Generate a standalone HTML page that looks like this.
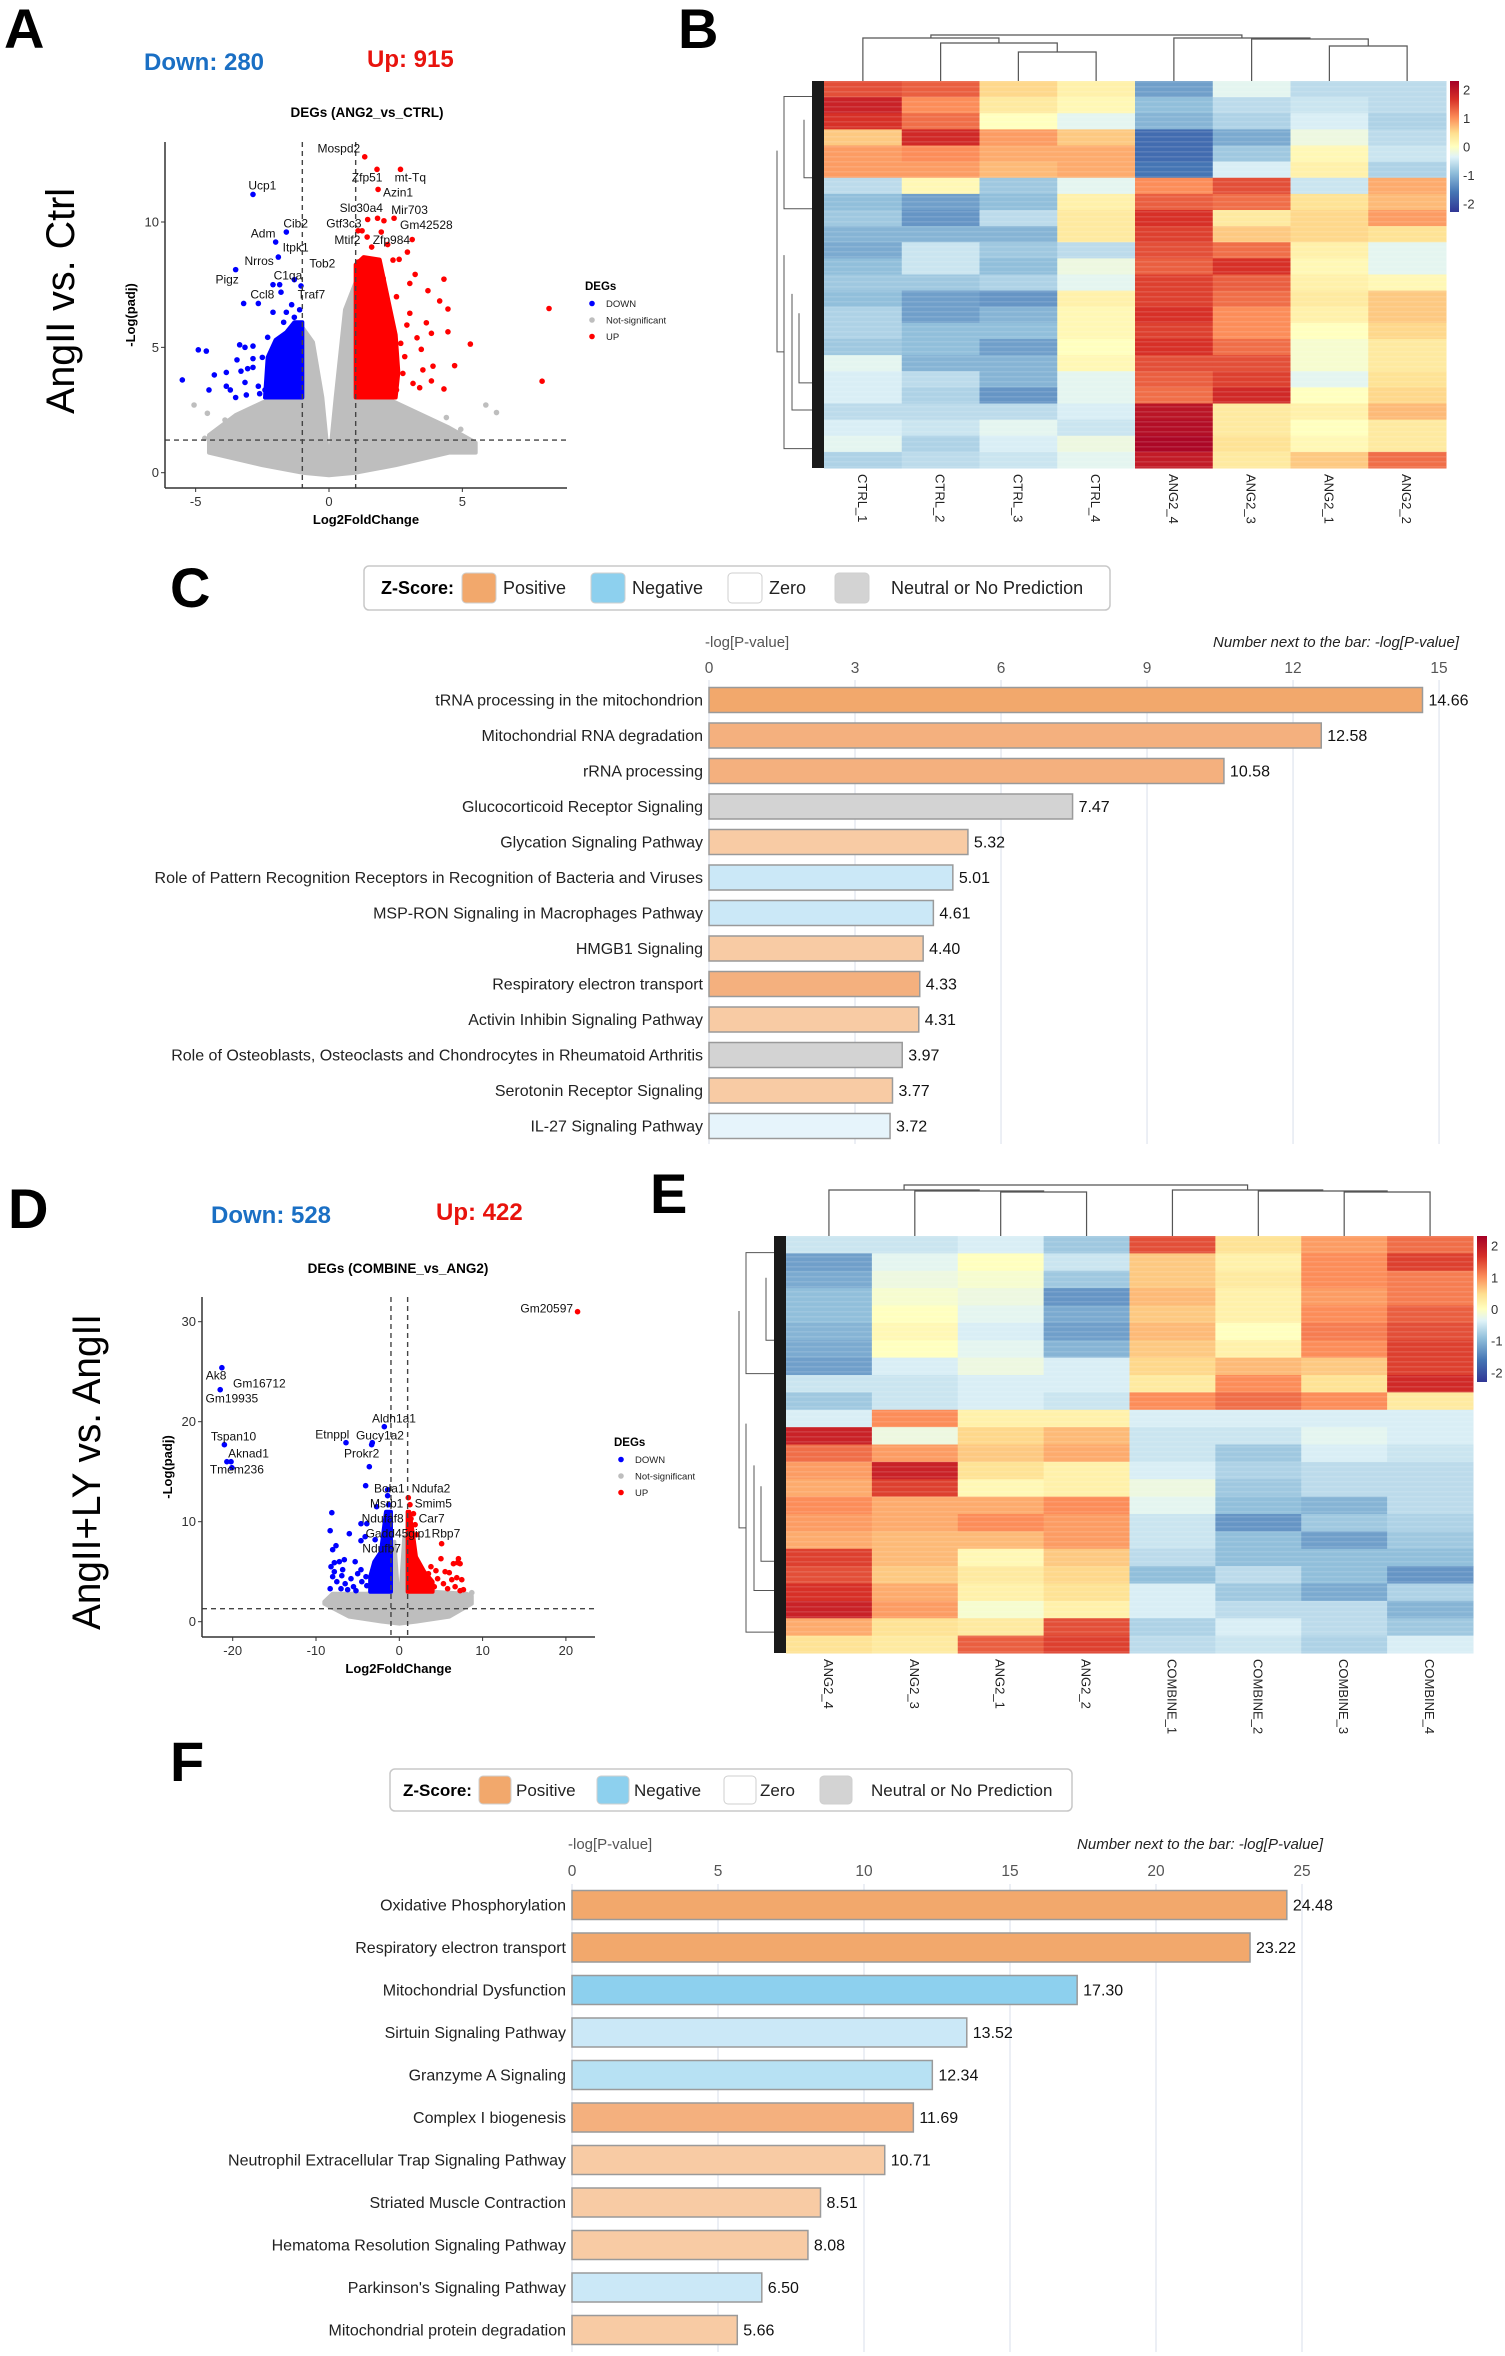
<!DOCTYPE html>
<html><head><meta charset="utf-8"><style>
html,body{margin:0;padding:0;background:#fff;}
svg{display:block;font-family:"Liberation Sans",Arial,sans-serif;}
</style></head><body>
<svg id="fig" xmlns="http://www.w3.org/2000/svg" width="1505" height="2356" viewBox="0 0 1505 2356">
<defs>
<linearGradient id="cbar" x1="0" y1="1" x2="0" y2="0">
<stop offset="0" stop-color="#313695"/><stop offset="0.15" stop-color="#4575B4"/><stop offset="0.3" stop-color="#91BFDB"/><stop offset="0.42" stop-color="#E0F3F8"/><stop offset="0.5" stop-color="#FFFFBF"/><stop offset="0.6" stop-color="#FEE090"/><stop offset="0.72" stop-color="#FC8D59"/><stop offset="0.86" stop-color="#D73027"/><stop offset="1" stop-color="#A50026"/>
</linearGradient>
</defs>
<text x="4" y="48" font-size="56" font-weight="bold">A</text>
<text x="678" y="48" font-size="56" font-weight="bold">B</text>
<text x="170" y="607" font-size="56" font-weight="bold">C</text>
<text x="8" y="1228" font-size="56" font-weight="bold">D</text>
<text x="650" y="1213" font-size="56" font-weight="bold">E</text>
<text x="170" y="1781" font-size="56" font-weight="bold">F</text>
<text x="144" y="70" font-size="24" font-weight="bold" fill="#1a6fc4">Down: 280</text>
<text x="367" y="67" font-size="24" font-weight="bold" fill="#e8130d">Up: 915</text>
<text x="211" y="1223" font-size="24" font-weight="bold" fill="#1a6fc4">Down: 528</text>
<text x="436" y="1220" font-size="24" font-weight="bold" fill="#e8130d">Up: 422</text>
<text transform="translate(74,301) rotate(-90)" text-anchor="middle" font-size="40" textLength="226" lengthAdjust="spacingAndGlyphs">AngII vs. Ctrl</text>
<text transform="translate(100,1472) rotate(-90)" text-anchor="middle" font-size="40" textLength="316" lengthAdjust="spacingAndGlyphs">AngII+LY vs. AngII</text>
</svg>
<script>
// ---------- DATA ----------
// Volcano A (ANG2_vs_CTRL)
const aDown = [[-2.85,11.1],[-2.0,9.2],[-1.6,9.6],[-1.9,8.6],[-3.5,8.1],[-1.3,7.7],[-2.65,6.75],[-2.1,7.5],[-1.85,7.5],[-1.8,7.2],[-1.05,7.45],[-3.2,6.75],[-2.1,6.4],[-1.6,6.4],[-1.4,6.7],[-1.1,6.5],[-4.9,4.9],[-4.6,4.85],[-5.5,3.7],[-4.5,3.3],[-4.3,3.9],[-3.85,4.0],[-3.85,3.45],[-3.7,3.3],[-3.5,3.0],[-3.45,4.5],[-3.35,5.1],[-3.15,5.0],[-3.3,4.05],[-3.05,4.15],[-2.85,4.2],[-3.15,3.6],[-3.1,3.1],[-2.85,4.55],[-2.85,5.05],[-2.5,4.6],[-2.65,3.45],[-2.6,3.15],[-2.3,5.4],[-2.2,3.6],[-1.7,6.0],[-1.3,6.2],[-1.2,5.9],[-2.4,3.3],[-2.0,3.1]];
const aUp = [[1.34,12.6],[1.8,12.1],[2.68,12.1],[1.84,11.3],[2.44,10.15],[2.06,10.05],[1.45,10.1],[1.09,9.65],[1.24,9.65],[1.43,9.4],[1.96,9.6],[3.12,9.3],[2.94,8.8],[1.82,10.15],[8.25,6.55],[7.99,3.65],[5.3,5.13],[4.71,4.27],[4.31,7.72],[4.46,6.53],[4.46,5.62],[4.31,3.34],[4.15,6.85],[3.9,4.25],[3.84,3.66],[3.84,5.56],[3.71,7.26],[3.65,5.98],[3.52,4.1],[3.46,4.92],[3.3,5.38],[3.23,7.91],[3.03,7.55],[3.03,6.36],[3.4,3.39],[3.15,3.56],[2.92,5.89],[2.84,4.63],[2.77,3.96],[2.69,5.16],[2.63,8.51],[2.4,8.48],[2.53,7.02],[2.31,6.09],[2.15,4.89],[2.4,4.23],[2.03,7.75],[2.19,3.5],[2.53,3.3],[1.6,9.0],[2.2,9.1],[1.1,8.4],[1.5,8.3]];
const aNs = [[-5.06,2.7],[-4.56,2.37],[5.88,2.7],[6.28,2.4],[4.94,1.73],[4.9,1.33],[2.75,0.57],[-2.04,0.3],[-3.76,0.9],[-4.66,1.37],[-3.44,1.83],[3.78,1.44],[-3.9,2.1],[4.4,2.2]];
const aCloudX = [-4.5,-3.5,-2.5,-1.5,-1.0,-0.6,-0.25,0,0.25,0.6,1.0,1.5,2.5,3.5,4.5,5.5];
const aCloudHi = [1.5,2.3,2.8,3.2,5.8,5.2,3.0,0.3,3.0,6.5,7.6,3.3,2.8,2.3,1.8,1.2];
const aCloudLoX = [5.5,4.5,2.5,1.0,0,-1.0,-2.5,-4.5];
const aCloudLo = [0.8,0.8,0.3,0.0,-0.1,0.0,0.3,0.8];
const aDenseDownX = [-2.4,-1.0,-1.0,-1.3,-1.6,-2.0,-2.3];
const aDenseDownY = [3.0,3.0,6.0,6.0,5.6,5.3,4.6];
const aDenseUpX = [1.0,2.5,2.6,2.5,2.3,2.1,1.9,1.3,1.0];
const aDenseUpY = [3.0,3.0,4.0,5.5,6.5,7.5,8.5,8.6,8.3];
const aLabels = [["Mospd2",0.37,12.94],["Zfp51",1.43,11.77],["mt-Tq",3.05,11.77],["Ucp1",-2.5,11.45],["Azin1",2.59,11.17],["Slc30a4",1.21,10.55],["Mir703",3.02,10.48],["Gm42528",3.65,9.88],["Cib2",-1.25,9.95],["Gtf3c3",0.56,9.95],["Adm",-2.47,9.55],["Mtif2",0.69,9.28],["Zfp984",2.34,9.28],["Itpk1",-1.25,8.98],["Nrros",-2.62,8.44],["Tob2",-0.25,8.35],["Pigz",-3.82,7.71],["C1qa",-1.54,7.86],["Ccl8",-2.5,7.11],["Traf7",-0.66,7.11]];
const aXTicks = [-5,0,5];
const aYTicks = [0,5,10];

// Volcano D (COMBINE_vs_ANG2)
const dDown = [[-21.3,25.4],[-21.5,23.2],[-21.0,17.7],[-20.7,16],[-20.2,16],[-20.1,15.4],[-1.8,19.5],[-6.4,17.9],[-3.24,17.9],[-3.32,17.7],[-3.6,15.5],[-4.04,13.6],[-1.4,13.2],[-1.4,12.6],[-2.72,11.5],[-1.28,11.7],[-8.1,10.9],[-8.3,9.1],[-6,8.8],[-4.6,9.8],[-3.9,9.8],[-4.1,8.5],[-4.6,8.1],[-2.9,8.2],[-7.6,7.6],[-8.0,7.2],[-5.3,6.0],[-8.2,5.5],[-7.8,5.9],[-7.2,6.0],[-6.8,5.2],[-8.0,4.5],[-7.5,4.0],[-6.5,3.8],[-5.8,4.3],[-5.0,4.8],[-4.5,4.0],[-7.0,3.3],[-8.3,3.3],[-6.2,3.2],[-5.5,3.5],[-4.0,4.5],[-7.8,5.0],[-6.6,6.2],[-3.9,3.6],[-5.2,3.1],[-6.9,4.6],[-4.6,5.2]];
const dUp = [[21.4,31],[1.08,12.4],[1.28,11.7],[1.7,10.8],[2.08,8.7],[5.08,7.8],[5.0,6.3],[7.1,6.3],[7.3,5.8],[6.0,4.9],[7.5,4.2],[7.7,3.2],[4.2,3.5],[4.6,4.3],[5.3,3.8],[5.8,3.3],[6.3,4.2],[6.7,3.5],[6.9,4.4],[7.3,3.1],[4.4,5.1],[3.8,5.5],[5.5,5.0],[6.5,5.8],[7.0,5.9],[3.5,4.8],[1.4,10.3],[1.9,9.7]];
const dNs = [[8.7,2.9],[-8.7,2.0],[-5.5,1.0],[7.8,1.7]];
const dCloudX = [-9,-8,-4,-1,-0.6,0,0.6,1,4,8,8.7];
const dCloudHi = [2.0,2.8,2.8,3.0,8.0,1.0,8.5,3.0,3.0,2.8,2.6];
const dCloudLoX = [8.7,6,2,0,-2,-6,-9];
const dCloudLo = [1.8,0.5,0,-0.2,0,0.5,1.8];
const dDenseDownX = [-3.5,-1.0,-1.0,-1.6,-2.2,-3.0,-3.5];
const dDenseDownY = [3.0,3.0,11.0,11.0,7.0,6.0,4.5];
const dDenseUpX = [1.0,4.0,4.0,3.0,2.0,1.6,1.2,1.0];
const dDenseUpY = [3.0,3.0,4.0,5.0,6.5,9.0,11.0,11.0];
const dLabels = [["Gm20597",17.7,31.3],["Ak8",-22,24.6],["Gm16712",-16.8,23.8],["Gm19935",-20.1,22.3],["Aldh1a1",-0.64,20.3],["Etnppl",-8.04,18.7],["Gucy1a2",-2.32,18.6],["Tspan10",-19.9,18.5],["Aknad1",-18.1,16.8],["Prokr2",-4.52,16.8],["Tmem236",-19.5,15.2],["Bola1",-1.2,13.3],["Ndufa2",3.8,13.3],["Msrb1",-1.52,11.8],["Smim5",4.08,11.8],["Ndufaf8",-2,10.3],["Car7",3.88,10.3],["Gadd45gip1",-0.12,8.8],["Rbp7",5.6,8.8],["Ndufb7",-2.12,7.3]];
const dXTicks = [-20,-10,0,10,20];
const dYTicks = [0,10,20,30];

// Heatmap B
const bCols = ["CTRL_1","CTRL_2","CTRL_3","CTRL_4","ANG2_4","ANG2_3","ANG2_1","ANG2_2"];
const bMatrix = [
[1.4,1.3,0.5,0.2,-1.2,-0.3,-0.6,-0.6],[1.8,1.0,0.3,0.1,-0.9,-0.6,-0.5,-0.6],[1.6,1.2,0.0,-0.3,-1.0,-0.7,-0.4,-0.7],[0.6,1.7,0.9,0.6,-1.7,-1.1,-0.2,-0.6],[0.9,1.0,0.8,0.8,-1.7,-0.8,0.1,-0.5],[0.9,0.9,0.7,0.8,-1.6,-0.4,0.2,-0.7],
[-0.6,0.1,-0.8,-0.3,1.0,1.4,-0.5,0.8],[-0.9,-1.2,-0.9,0.2,1.3,1.2,0.4,0.7],[-0.8,-1.3,-0.6,0.3,1.6,0.3,0.5,0.9],[-1.0,-1.0,-1.0,0.3,1.5,0.6,0.5,0.4],[-1.1,-0.5,-0.8,-0.6,1.4,1.2,0.2,-0.3],[-0.9,-0.5,-0.9,-0.2,1.3,1.6,0.1,-0.3],
[-0.8,-0.8,-0.7,-0.3,1.5,1.3,0.2,0.1],[-0.9,-1.2,-1.3,0.2,1.5,1.2,0.3,0.6],[-0.7,-1.2,-1.0,0.1,1.6,1.0,0.2,0.6],[-0.7,-0.9,-0.9,0.1,1.5,1.0,0.0,0.5],[-0.8,-0.9,-1.2,0.0,1.6,1.2,-0.1,0.3],[-0.3,-1.0,-1.0,0.1,1.4,1.4,-0.1,0.3],
[-0.4,-0.6,-1.0,-0.3,1.3,1.5,-0.3,0.4],[-0.4,-0.7,-1.3,-0.3,1.2,1.7,0.0,0.5],[-0.6,-0.6,-0.6,-0.4,2.0,0.3,0.2,0.7],[-0.4,-0.5,-0.3,-0.5,2.1,0.3,0.0,0.3],[-0.3,-0.7,-0.4,-0.2,2.2,0.4,0.1,0.3],[-0.7,-0.6,-0.5,-0.3,1.9,0.3,0.6,1.2]];
// Heatmap E
const eCols = ["ANG2_4","ANG2_3","ANG2_1","ANG2_2","COMBINE_1","COMBINE_2","COMBINE_3","COMBINE_4"];
const eMatrix = [
[-0.5,-0.5,-0.4,-0.8,1.4,0.4,0.9,1.2],[-1.2,-0.3,0.0,-0.5,0.6,0.2,1.0,1.5],[-1.1,-0.2,-0.1,-0.8,0.6,0.3,1.0,1.1],[-0.9,-0.1,-0.2,-1.3,0.7,0.2,0.9,1.1],[-0.9,0.0,-0.3,-1.1,0.6,0.2,1.0,1.3],[-1.0,0.1,-0.4,-1.2,0.7,0.0,1.1,1.4],
[-1.1,0.0,-0.3,-1.0,0.6,0.2,1.0,1.5],[-1.2,-0.4,-0.2,-0.4,0.5,0.7,0.6,1.5],[-0.5,-0.5,-0.4,-0.4,0.3,1.0,0.4,1.7],[-0.8,-0.5,-0.4,-0.5,1.0,1.2,1.0,0.3],[-0.4,1.0,0.2,0.2,-0.4,-0.4,-0.4,-0.4],[1.8,-0.2,0.5,0.7,-0.5,-0.5,-0.3,-0.4],
[1.2,0.9,0.6,0.8,-0.5,-0.8,-0.4,-0.5],[0.9,1.8,0.4,0.2,-0.4,-0.7,-0.6,-0.6],[0.8,1.5,0.1,0.2,-0.2,-0.8,-0.6,-0.6],[1.0,0.8,0.8,1.0,-0.3,-0.9,-1.0,-0.6],[0.9,0.8,1.0,0.9,-0.5,-1.3,-0.8,-0.7],[0.8,0.7,0.7,0.9,-0.5,-0.9,-1.2,-0.8],
[1.5,0.7,0.1,0.6,-0.6,-0.9,-0.9,-0.9],[1.4,0.6,0.3,0.5,-0.9,-0.6,-0.9,-1.3],[1.6,0.8,0.2,0.4,-0.4,-0.8,-1.1,-0.7],[1.8,0.9,-0.1,0.2,-0.4,-0.6,-0.6,-1.0],[0.8,0.4,0.3,1.4,-0.7,-0.4,-0.6,-0.8],[0.4,0.3,1.3,1.5,-0.6,-0.5,-0.7,-0.4]];
const cbTicks = [2,1,0,-1,-2];

// Bar chart C
const cCategories = ["tRNA processing in the mitochondrion","Mitochondrial RNA degradation","rRNA processing","Glucocorticoid Receptor Signaling","Glycation Signaling Pathway","Role of Pattern Recognition Receptors in Recognition of Bacteria and Viruses","MSP-RON Signaling in Macrophages Pathway","HMGB1 Signaling","Respiratory electron transport","Activin Inhibin Signaling Pathway","Role of Osteoblasts, Osteoclasts and Chondrocytes in Rheumatoid Arthritis","Serotonin Receptor Signaling","IL-27 Signaling Pathway"];
const cValues = [14.66,12.58,10.58,7.47,5.32,5.01,4.61,4.40,4.33,4.31,3.97,3.77,3.72];
const cZ = ["pos3","pos2","pos2","neutral","pos1","neg1","neg1","pos1","pos2","pos1","neutral","pos1","neg0"];
const cTicks = [0,3,6,9,12,15];
// Bar chart F
const fCategories = ["Oxidative Phosphorylation","Respiratory electron transport","Mitochondrial Dysfunction","Sirtuin Signaling Pathway","Granzyme A Signaling","Complex I biogenesis","Neutrophil Extracellular Trap Signaling Pathway","Striated Muscle Contraction","Hematoma Resolution Signaling Pathway","Parkinson's Signaling Pathway","Mitochondrial protein degradation"];
const fValues = [24.48,23.22,17.30,13.52,12.34,11.69,10.71,8.51,8.08,6.50,5.66];
const fZ = ["pos3","pos3","neg3","neg1","neg2","pos2","pos1","pos1","pos1","neg1","pos1"];
const fTicks = [0,5,10,15,20,25];

// ---------- RENDER ----------
const NS = 'http://www.w3.org/2000/svg';
const svg = document.getElementById('fig');
function mk(tag, attrs, parent){ const e = document.createElementNS(NS, tag); for (const k in attrs) e.setAttribute(k, attrs[k]); (parent || svg).appendChild(e); return e; }
function txt(s, attrs, parent){ const e = mk('text', attrs, parent); e.textContent = s; return e; }
const zColor = {pos3:'#F2A86C',pos2:'#F4B07E',pos1:'#F8CBA4',neutral:'#D3D3D3',neg3:'#8DD0EE',neg2:'#B7E1F3',neg1:'#CBE8F7',neg0:'#E6F4FB'};

function heatColor(v){
  const st = [[-2.3,[49,54,149]],[-1.6,[69,117,180]],[-0.9,[145,191,219]],[-0.35,[224,243,248]],[0,[255,255,191]],[0.45,[254,224,144]],[1.0,[252,141,89]],[1.6,[215,48,39]],[2.3,[165,0,38]]];
  if (v <= st[0][0]) return 'rgb('+st[0][1].join(',')+')';
  for (let i=1;i<st.length;i++){ if (v <= st[i][0]){ const t=(v-st[i-1][0])/(st[i][0]-st[i-1][0]); const c=st[i-1][1].map((a,j)=>Math.round(a+(st[i][1][j]-a)*t)); return 'rgb('+c.join(',')+')'; } }
  return 'rgb(165,0,38)';
}

function volcano(cfg){
  const g = mk('g', {});
  
  
  const sx = v => cfg.x0 + cfg.kx * v, sy = v => cfg.y0 - cfg.ky * v;
  // grey cloud
  let pts = cfg.cloudX.map((x,i)=>sx(x)+','+sy(cfg.cloudHi[i])).concat(cfg.cloudLoX.map((x,i)=>sx(x)+','+sy(cfg.cloudLo[i])));
  let p = mk('polygon', {points: pts.join(' '), fill:'#BEBEBE', stroke:'#BEBEBE', 'stroke-width':4, 'stroke-linejoin':'round'}, g);
  
  
  cfg.ns.forEach(d => { const c = mk('circle', {cx:sx(d[0]), cy:sy(d[1]), r:2.8, fill:'#BEBEBE'}, g);
    
     });
  // dense regions
  p = mk('polygon', {points: cfg.ddX.map((x,i)=>sx(x)+','+sy(cfg.ddY[i])).join(' '), fill:'#0000FF', stroke:'#0000FF', 'stroke-width':4, 'stroke-linejoin':'round'}, g);
  
  
  p = mk('polygon', {points: cfg.duX.map((x,i)=>sx(x)+','+sy(cfg.duY[i])).join(' '), fill:'#FF0000', stroke:'#FF0000', 'stroke-width':4, 'stroke-linejoin':'round'}, g);
  
  
  cfg.down.forEach(d => { const c = mk('circle', {cx:sx(d[0]), cy:sy(d[1]), r:2.8, fill:'#0000FF'}, g);
    
     });
  cfg.up.forEach(d => { const c = mk('circle', {cx:sx(d[0]), cy:sy(d[1]), r:2.8, fill:'#FF0000'}, g);
    
     });
  // dashed thresholds
  [-1,1].forEach(v => { const l = mk('line', {x1:sx(v), x2:sx(v), y1:cfg.top, y2:cfg.bottom, stroke:'#444', 'stroke-dasharray':'5,4', 'stroke-width':1.4}, g);
    
     });
  let l = mk('line', {x1:cfg.left, x2:cfg.right, y1:sy(1.3), y2:sy(1.3), stroke:'#444', 'stroke-dasharray':'5,4', 'stroke-width':1.4}, g);
  
  
  // axes
  l = mk('line', {x1:cfg.left, x2:cfg.left, y1:cfg.top, y2:cfg.bottom, stroke:'#333', 'stroke-width':1.5}, g);
  
  
  l = mk('line', {x1:cfg.left, x2:cfg.right, y1:cfg.bottom, y2:cfg.bottom, stroke:'#333', 'stroke-width':1.5}, g);
  
  
  cfg.xt.forEach(v => { const t = mk('line', {x1:sx(v), x2:sx(v), y1:cfg.bottom, y2:cfg.bottom+4, stroke:'#333'}, g);
    
    
    const s = txt(String(v), {x:sx(v), y:cfg.bottom+18, 'text-anchor':'middle', 'font-size':13, fill:'#333'}, g);
    
     });
  cfg.yt.forEach(v => { const t = mk('line', {x1:cfg.left-4, x2:cfg.left, y1:sy(v), y2:sy(v), stroke:'#333'}, g);
    
    
    const s = txt(String(v), {x:cfg.left-6, y:sy(v)+4.5, 'text-anchor':'end', 'font-size':13, fill:'#333'}, g);
    
     });
  cfg.labels.forEach(d => { const s = txt(d[0], {x:sx(d[1]), y:sy(d[2])+4, 'text-anchor':'middle', 'font-size':12, fill:'#111'}, g);
    
     });
  let s = txt(cfg.title, {x:cfg.tx, y:cfg.ty, 'text-anchor':'middle', 'font-size':13.5, 'font-weight':'bold'}, g);
  
  
  s = txt('Log2FoldChange', {x:(cfg.left+cfg.right)/2, y:cfg.bottom+36, 'text-anchor':'middle', 'font-size':13, 'font-weight':'bold'}, g);
  
  
  s = txt('-Log(padj)', {transform:'translate('+(cfg.left-30)+','+((cfg.top+cfg.bottom)/2)+') rotate(-90)', 'text-anchor':'middle', 'font-size':13, 'font-weight':'bold'}, g);
  
  
  // legend
  s = txt('DEGs', {x:cfg.lx, y:cfg.ly, 'font-size':11.5, 'font-weight':'bold'}, g);
  
  
  [['DOWN','#0000FF'],['Not-significant','#BEBEBE'],['UP','#FF0000']].forEach((it,i) => {
    const yy = cfg.ly + 17 + i*16.5;
    const c = mk('circle', {cx:cfg.lx+7, cy:yy-3.5, r:2.8, fill:it[1]}, g);
    
    
    const t = txt(it[0], {x:cfg.lx+21, y:yy, 'font-size':9.5, fill:'#222'}, g);
    
     });
}

volcano({name:'volcano-ang2-vs-ctrl', x0:329, kx:26.67, y0:472.7, ky:25.07, left:165, right:567, top:142, bottom:488,
  down:aDown, up:aUp, ns:aNs, cloudX:aCloudX, cloudHi:aCloudHi, cloudLoX:aCloudLoX, cloudLo:aCloudLo,
  ddX:aDenseDownX, ddY:aDenseDownY, duX:aDenseUpX, duY:aDenseUpY, labels:aLabels, xt:aXTicks, yt:aYTicks,
  title:'DEGs (ANG2_vs_CTRL)', tx:367, ty:117, lx:585, ly:290});
volcano({name:'volcano-combine-vs-ang2', x0:399.3, kx:8.33, y0:1621.7, ky:10, left:202, right:595, top:1297, bottom:1637,
  down:dDown, up:dUp, ns:dNs, cloudX:dCloudX, cloudHi:dCloudHi, cloudLoX:dCloudLoX, cloudLo:dCloudLo,
  ddX:dDenseDownX, ddY:dDenseDownY, duX:dDenseUpX, duY:dDenseUpY, labels:dLabels, xt:dXTicks, yt:dYTicks,
  title:'DEGs (COMBINE_vs_ANG2)', tx:398, ty:1273, lx:614, ly:1446});

function heatmap(cfg){
  const g = mk('g', {});
  
  
  const nR = cfg.m.length, nC = cfg.cols.length;
  const cw = (cfg.r - cfg.l) / nC, rh = (cfg.b - cfg.t) / nR;
  cfg.m.forEach((row, i) => row.forEach((v, j) => {
    const r = mk('rect', {x:cfg.l + j*cw, y:cfg.t + i*rh, width:cw+0.5, height:rh+0.5, fill:heatColor(v)}, g);
    
    
  }));
  // subtle striping overlay
  for (let y = cfg.t; y < cfg.b; y += 5) {
    const s = mk('rect', {x:cfg.l, y:y, width:cfg.r-cfg.l, height:1.6, fill:'#fff', opacity:0.12}, g);
    
    
  }
  cfg.cols.forEach((c, j) => {
    const cx = cfg.l + (j+0.5)*cw;
    const t = txt(c, {transform:'translate('+(cx-5)+','+(cfg.b+6)+') rotate(90)', 'font-size':13, fill:'#222'}, g);
    
    
  });
  // top dendrogram
  const cx = j => cfg.l + (j+0.5)*cw;
  const dg = mk('g', {stroke:'#555', 'stroke-width':1.2, fill:'none'}, g);
  
  
  cfg.dendro.forEach(d => {
    const xa = d[0], xb = d[1], h = d[2], ya = d[3], yb = d[4];
    const pth = mk('path', {d:'M'+xa+','+ya+'V'+h+'H'+xb+'V'+yb}, dg);
    
    
  });
  // left dendrogram
  const lg = mk('g', {stroke:'#555', 'stroke-width':1, fill:'none'}, g);
  
  
  const L = cfg.l, T = cfg.t, H = cfg.b - cfg.t;
  const pathD = 'M'+(L-12)+','+(T+H*0.04)+'H'+(L-40)+'V'+(T+H*0.33)+'H'+(L-12)
    +'M'+(L-47)+','+(T+H*0.18)+'V'+(T+H*0.7)+'H'+(L-40)
    +'M'+(L-40)+','+(T+H*0.45)+'V'+(T+H*0.95)+'H'+(L-12)
    +'M'+(L-32)+','+(T+H*0.55)+'V'+(T+H*0.85)+'H'+(L-12)
    +'M'+(L-25)+','+(T+H*0.6)+'V'+(T+H*0.78)+'H'+(L-12)
    +'M'+(L-20)+','+(T+H*0.1)+'V'+(T+H*0.25)+'H'+(L-12);
  const lp = mk('path', {d:pathD}, lg);
  
  
  const leaf = mk('rect', {x:L-12, y:T, width:12, height:H, fill:'#1a1a1a', stroke:'none'}, g);
  
  
  // color bar
  const cb = mk('rect', {x:cfg.cbx, y:cfg.cby0, width:cfg.cbw, height:cfg.cby1-cfg.cby0, fill:'url(#cbar)'}, g);
  
  
  cbTicks.forEach(v => {
    const yy = cfg.cby0 + (cfg.cby1-cfg.cby0) * (2.3 - v) / 4.6;
    const t = txt(String(v), {x:cfg.cbx+cfg.cbw+4, y:yy+5, 'font-size':13, fill:'#333'}, g);
    
    
  });
}
(function(){
  const l=824, r=1446, cw=(r-l)/8, c=j=>l+(j+0.5)*cw, t=81;
  heatmap({name:'heatmap-ang2-vs-ctrl', cols:bCols, m:bMatrix, l:l, r:r, t:t, b:468, cbx:1450, cbw:9, cby0:81, cby1:212,
    dendro:[[c(2),c(3),52,t,t],[c(1),(c(2)+c(3))/2,43,t,52],[c(0),(c(1)+(c(2)+c(3))/2)/2,38,t,43],[c(6),c(7),46,t,t],[c(5),(c(6)+c(7))/2,39,t,46],[c(4),(c(5)+(c(6)+c(7))/2)/2,38,t,39],[(c(0)+(c(1)+(c(2)+c(3))/2)/2)/2,(c(4)+(c(5)+(c(6)+c(7))/2)/2)/2,35,38,38]]});
  const l2=786, r2=1473, cw2=(r2-l2)/8, e=j=>l2+(j+0.5)*cw2, t2=1236;
  heatmap({name:'heatmap-combine-vs-ang2', cols:eCols, m:eMatrix, l:l2, r:r2, t:t2, b:1653, cbx:1477, cbw:10, cby0:1236, cby1:1382,
    dendro:[[e(2),e(3),1192,t2,t2],[e(1),(e(2)+e(3))/2,1191,t2,1192],[e(0),(e(1)+(e(2)+e(3))/2)/2,1190,t2,1191],[e(6),e(7),1192,t2,t2],[e(5),(e(6)+e(7))/2,1191,t2,1192],[e(4),(e(5)+(e(6)+e(7))/2)/2,1190,t2,1191],[(e(0)+(e(1)+(e(2)+e(3))/2)/2)/2,(e(4)+(e(5)+(e(6)+e(7))/2)/2)/2,1185,1190,1190]]});
})();

function legend(cfg){
  const g = mk('g', {});
  
  
  const box = mk('rect', {x:cfg.x, y:cfg.y, width:cfg.w, height:cfg.h, rx:5, fill:'#fff', stroke:'#c8c8c8', 'stroke-width':1.5}, g);
  
  
  const cy = cfg.y + cfg.h/2;
  let t = txt('Z-Score:', {x:cfg.zx, y:cy+6, 'font-size':cfg.fs, 'font-weight':'bold'}, g);
  
  
  const items = [['Positive','#F2A86C'],['Negative','#8DD0EE'],['Zero','#ffffff'],['Neutral or No Prediction','#D3D3D3']];
  items.forEach((it,i) => {
    const sw = mk('rect', {x:cfg.sx[i], y:cy-cfg.ss/2, width:cfg.ss+4, height:cfg.ss, rx:4, fill:it[1], stroke:'#cfcfcf'}, g);
    
    
    const tt = txt(it[0], {x:cfg.tx[i], y:cy+6, 'font-size':cfg.fs, fill:'#222'}, g);
    
    
  });
}
legend({name:'legend-c', x:364, y:566, w:746, h:44, zx:381, fs:18, ss:30, sx:[462,591,728,835], tx:[503,632,769,891]});
legend({name:'legend-f', x:390, y:1769, w:682, h:42, zx:403, fs:17, ss:28, sx:[479,597,724,820], tx:[516,634,760,871]});

function barChart(cfg){
  const g = mk('g', {});
  
  
  const sx = v => cfg.x0 + cfg.k * v;
  cfg.ticks.forEach(v => {
    const gl = mk('line', {x1:sx(v), x2:sx(v), y1:cfg.gt, y2:cfg.gb, stroke:'#dfe4ee', 'stroke-width':1.2}, g);
    
    
    const t = txt(String(v), {x:sx(v), y:cfg.ty, 'text-anchor':'middle', 'font-size':15.5, fill:'#555'}, g);
    
    
  });
  let t = txt('-log[P-value]', {x:cfg.x0-4, y:cfg.hy, 'font-size':15, fill:'#555'}, g);
  
  
  t = txt('Number next to the bar: -log[P-value]', {x:cfg.nx, y:cfg.hy, 'text-anchor':'end', 'font-size':15, 'font-style':'italic', fill:'#222'}, g);
  
  
  cfg.cats.forEach((c,i) => {
    const cy = cfg.y0 + i * cfg.step;
    const b = mk('rect', {x:cfg.x0, y:cy - cfg.bh/2, width:sx(cfg.vals[i]) - cfg.x0, height:cfg.bh, fill:zColor[cfg.z[i]], stroke:'#9a9a9a', 'stroke-width':1.5}, g);
    
    
    const l = txt(c, {x:cfg.x0-6, y:cy+5.5, 'text-anchor':'end', 'font-size':16, fill:'#222'}, g);
    
    
    const v = txt(cfg.vals[i].toFixed(2), {x:sx(cfg.vals[i])+6, y:cy+5.5, 'font-size':16, fill:'#111'}, g);
    
    
  });
}
barChart({name:'pathway-bar-chart-c', cats:cCategories, vals:cValues, z:cZ, ticks:cTicks, x0:709, k:48.67, y0:700, step:35.5, bh:25, gt:680, gb:1144, ty:673, hy:647, nx:1459});
barChart({name:'pathway-bar-chart-f', cats:fCategories, vals:fValues, z:fZ, ticks:fTicks, x0:572, k:29.2, y0:1905, step:42.5, bh:29, gt:1884, gb:2352, ty:1876, hy:1849, nx:1323});
</script>
</body></html>
